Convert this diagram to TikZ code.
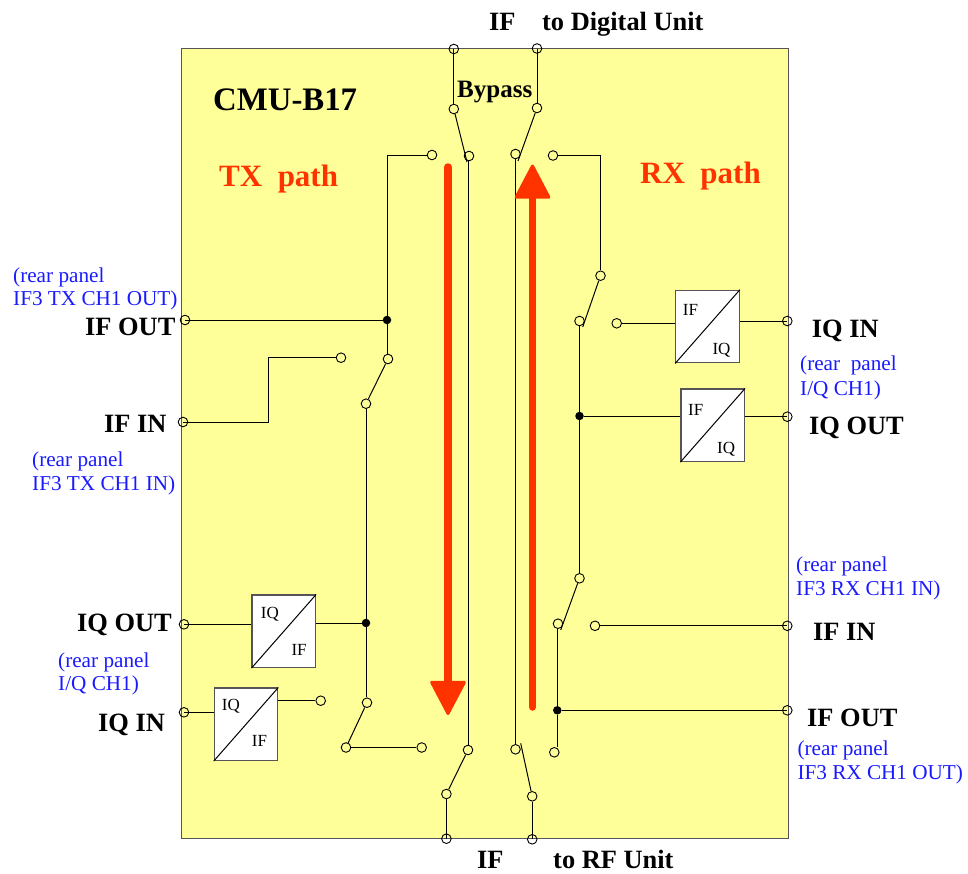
\documentclass[tikz,border=0pt]{standalone}
\usepackage{fontspec}
\setmainfont{Liberation Serif}
\usetikzlibrary{arrows.meta}
\definecolor{panelyellow}{HTML}{FFFF99}
\definecolor{pathred}{HTML}{FF3300}
\definecolor{noteblue}{HTML}{1A1AFF}
\definecolor{edgegrey}{HTML}{555555}
\tikzset{
  wire/.style={draw=black,line width=1pt},
  contact/.style={circle,draw=black,fill=panelyellow,line width=0.9pt,inner sep=0pt,minimum size=9.6pt},
  terminal/.style={circle,draw=black,line width=0.9pt,inner sep=0pt,minimum size=9.6pt},
  junction/.style={circle,fill=black,inner sep=0pt,minimum size=8.5pt},
  conv/.style={draw=edgegrey,fill=white,line width=1.2pt,inner sep=0pt,minimum width=63.5pt,minimum height=72.5pt},
  portlabel/.style={anchor=base west,inner sep=0pt,font=\fontsize{26.4}{26}\selectfont\bfseries},
  notelabel/.style={anchor=base west,inner sep=0pt,text=noteblue,font=\fontsize{21.2}{22}\selectfont},
  convlabel/.style={anchor=base west,inner sep=0pt,font=\fontsize{17}{17}\selectfont},
  pathlabel/.style={anchor=base west,inner sep=0pt,text=pathred,font=\fontsize{31}{31}\selectfont\bfseries},
  patharrow/.style={draw=pathred,line width=7.5pt,line cap=round,
    -{Triangle[round,length=36pt,width=37pt,line width=3pt,fill=pathred,color=pathred]}}
}
\begin{document}
\begin{tikzpicture}[x=1pt,y=-1pt]
\useasboundingbox (0,0) rectangle (968,873);
\node[draw=edgegrey,fill=panelyellow,line width=1.2pt,inner sep=0pt,anchor=north west,minimum width=607pt,minimum height=790pt] (panel) at (181,48) {};

% contacts and terminals
\node[terminal] (topL) at (453.8,49) {};
\node[terminal] (topR) at (537,48.5) {};
\node[contact] (s1) at (453.8,109) {};
\node[contact] (s2) at (537,108) {};
\node[contact] (c1a) at (432,155) {};
\node[contact] (c1b) at (469,156) {};
\node[contact] (c2a) at (515.5,154) {};
\node[contact] (c2b) at (553,155.5) {};
\coordinate (arm1) at (467,162);
\coordinate (arm2) at (518,161);

\node[terminal] (ifoutL) at (185,320) {};
\node[junction] (j1) at (387,320) {};
\node[contact] (s3) at (388,359) {};
\node[contact] (s3a) at (341,357.7) {};
\node[contact] (s3b) at (366,403.7) {};
\node[terminal] (ifinL) at (183,422) {};
\coordinate (bend1) at (268,357.7);
\coordinate (bend2) at (268,422);
\coordinate (cnr1) at (387,155);
\coordinate (cnr2) at (600.5,155.5);

\node[terminal] (iqoutL) at (184,624.3) {};
\node[conv] (b1) at (283.8,631.3) {};
\node[junction] (j2) at (366,623) {};
\node[terminal] (iqinL) at (184,712.3) {};
\node[conv] (b2) at (246,724.3) {};
\node[contact] (b2c) at (320.7,700.7) {};
\node[contact] (s4) at (367,702.7) {};
\node[contact] (s4a) at (346,747.5) {};
\node[contact] (s4b) at (421.7,747.5) {};

\node[contact] (s5) at (468,750) {};
\node[contact] (s5a) at (446.4,794) {};
\node[terminal] (botL) at (446.4,838.7) {};
\node[contact] (s6) at (515.5,749.3) {};
\node[contact] (s6a) at (532.2,796.3) {};
\node[terminal] (botR) at (532.2,839.3) {};
\coordinate (arm6) at (520.7,743.3);
\node[contact] (s7) at (554.3,752.3) {};

\node[junction] (j3) at (557.3,710.3) {};
\node[terminal] (ifoutR) at (787.3,710.3) {};
\node[contact] (s8) at (558,623.7) {};
\node[contact] (s8a) at (579.5,578.3) {};
\node[contact] (s8b) at (595,625.8) {};
\node[terminal] (ifinR) at (787.3,625.8) {};
\coordinate (arm8) at (560.7,630);

\node[junction] (j4) at (579.5,416) {};
\node[conv] (b4) at (712.7,425.3) {};
\node[terminal] (iqoutR) at (787.3,416.7) {};
\node[contact] (s9) at (579.5,321) {};
\node[contact] (s9a) at (600.5,275.7) {};
\node[contact] (s9b) at (616.7,323.3) {};
\node[conv] (b3) at (707.5,326.6) {};
\node[terminal] (iqinR) at (787.3,321) {};
\coordinate (arm9) at (582.7,327);

% converter diagonals
\foreach \b in {b1,b2,b3,b4} \draw[line width=1pt] (\b.south west) -- (\b.north east);

% wires
\draw[wire] (topL.center) -- (s1);
\draw[wire] (topR.center) -- (s2);
\draw[wire] (s1) -- (arm1);
\draw[wire] (s2) -- (arm2);
\draw[wire] (c1a) -- (cnr1) -- (j1);
\draw[wire] (j1) -- (j1 |- s3.north);
\draw[wire] (ifoutL.center) -- (j1);
\draw[wire] (s3a) -- (bend1) -- (bend2) -- (ifinL.center);
\draw[wire] (s3) -- (s3b);
\draw[wire] (s3b) -- (j2);
\draw[wire] (j2) -- (j2 |- s4.north);
\draw[wire] (iqoutL.center) -- (b1.west |- iqoutL);
\draw[wire] (b1.east |- j2) -- (j2);
\draw[wire] (iqinL.center) -- (b2.west |- iqinL);
\draw[wire] (b2.east |- b2c) -- (b2c);
\draw[wire] (s4) -- (s4a);
\draw[wire] (s4a) -- (s4b);
\draw[wire] (s5 |- c1b.south) -- (s5);
\draw[wire] (s5) -- (s5a);
\draw[wire] (s5a) -- (botL.center);
\draw[wire] (c2a) -- (s6);
\draw[wire] (s6a) -- (arm6);
\draw[wire] (s6a) -- (botR.center);
\draw[wire] (c2b) -- (cnr2) -- (s9a);
\draw[wire] (s9a) -- (arm9);
\draw[wire] (s9) -- (j4);
\draw[wire] (j4) -- (s8a);
\draw[wire] (s8a) -- (arm8);
\draw[wire] (s8b) -- (ifinR.center);
\draw[wire] (j3 |- s8.south) -- (j3);
\draw[wire] (j3) -- (j3 |- s7.north);
\draw[wire] (j3) -- (ifoutR.center);
\draw[wire] (j4) -- (b4.west |- j4);
\draw[wire] (b4.east |- iqoutR) -- (iqoutR.center);
\draw[wire] (s9b) -- (b3.west |- s9b);
\draw[wire] (b3.east |- iqinR) -- (iqinR.center);

% red path arrows
\coordinate (txs) at (448,167);
\coordinate (txe) at (448,715);
\coordinate (rxs) at (532.5,707);
\coordinate (rxe) at (532.5,164.5);
\draw[patharrow] (txs) -- (txe);
\draw[patharrow] (rxs) -- (rxe);

% converter labels
\node[convlabel] (b1t) at (260.7,618) {IQ};
\node[convlabel] (b1u) at (291.3,655) {IF};
\node[convlabel] (b2t) at (221.7,710.7) {IQ};
\node[convlabel] (b2u) at (251.7,746.7) {IF};
\node[convlabel] (b3t) at (682.7,315.7) {IF};
\node[convlabel] (b3u) at (712.3,354) {IQ};
\node[convlabel] (b4t) at (688,415) {IF};
\node[convlabel] (b4u) at (717,453) {IQ};

% titles
\node[portlabel] (ttop1) at (489,30) {IF};
\node[portlabel] (ttop2) at (542,30) {to Digital Unit};
\node[portlabel,font=\fontsize{25}{25}\selectfont\bfseries] (tbyp) at (457,97) {Bypass};
\node[anchor=base west,inner sep=0pt,font=\fontsize{32.8}{33}\selectfont\bfseries] (tcmu) at (213,110) {CMU-B17};
\node[pathlabel] (ttx) at (219,186) {TX\ \ path};
\node[pathlabel] (trx) at (640,183) {RX\ \ path};
\node[portlabel] (tbot1) at (477,868) {IF};
\node[portlabel] (tbot2) at (553,868) {to RF Unit};

% port labels
\node[portlabel] (l1) at (85,335) {IF OUT};
\node[portlabel] (l2) at (104,432.7) {IF IN};
\node[portlabel] (l3) at (77,631.7) {IQ OUT};
\node[portlabel] (l4) at (98,731.7) {IQ IN};
\node[portlabel] (r1) at (811.7,337) {IQ IN};
\node[portlabel] (r2) at (809,434) {IQ OUT};
\node[portlabel] (r3) at (813,640.7) {IF IN};
\node[portlabel] (r4) at (807,726.7) {IF OUT};

% notes
\node[notelabel] (n1a) at (13,282) {(rear panel};
\node[notelabel] (n1b) at (13,305) {IF3 TX CH1 OUT)};
\node[notelabel] (n2a) at (32,466.7) {(rear panel};
\node[notelabel] (n2b) at (32,490.7) {IF3 TX CH1 IN)};
\node[notelabel] (n3a) at (58,667) {(rear panel};
\node[notelabel] (n3b) at (58,690.7) {I/Q CH1)};
\node[notelabel] (n4a) at (800,370) {(rear\ \ panel};
\node[notelabel] (n4b) at (800,395) {I/Q CH1)};
\node[notelabel] (n5a) at (796,571.7) {(rear panel};
\node[notelabel] (n5b) at (796,595.7) {IF3 RX CH1 IN)};
\node[notelabel] (n6a) at (797.3,755) {(rear panel};
\node[notelabel] (n6b) at (797.3,779.3) {IF3 RX CH1 OUT)};
\end{tikzpicture}
\end{document}
